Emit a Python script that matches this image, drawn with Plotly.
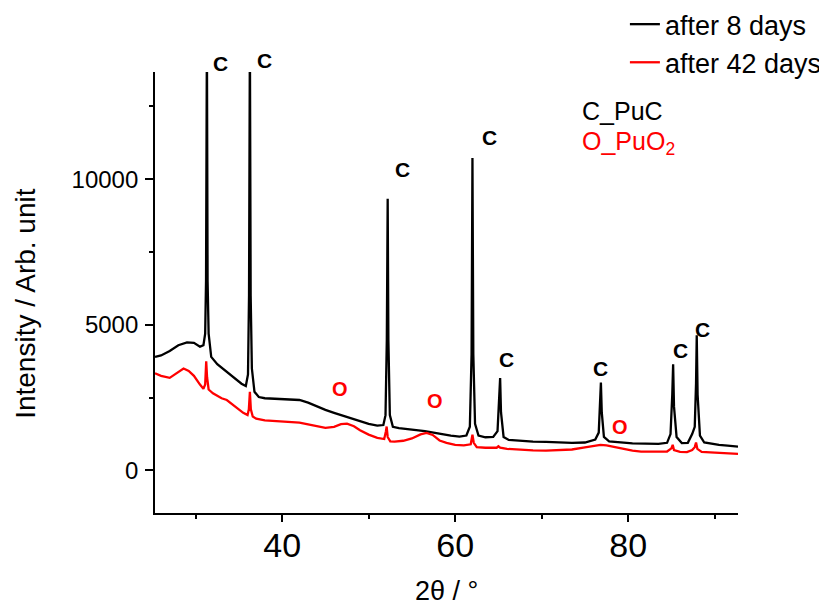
import plotly.graph_objects as go

# ---- data ----
two_theta_8d = [25.3, 26.0, 27.0, 28.0, 29.0, 29.8, 30.5, 30.9, 31.1, 31.2, 31.3, 31.38, 31.5, 31.8,
                32.5, 33.5, 34.5, 35.3, 35.8, 36.05, 36.17, 36.27, 36.36, 36.5, 36.8, 37.3, 38.0,
                39.0, 40.0, 41.0, 42.0, 43.0, 44.0, 45.0, 46.0, 47.0, 48.0, 49.0, 50.0, 51.0, 51.7,
                51.95, 52.1, 52.2, 52.28, 52.45, 52.8, 53.5, 54.5, 55.5, 56.5, 57.5, 58.5, 59.5,
                60.5, 61.3, 61.7, 61.9, 62.0, 62.1, 62.3, 62.7, 63.5, 64.4, 64.9, 65.1, 65.2, 65.3,
                65.6, 66.2, 67.5, 69.0, 70.5, 72.0, 73.5, 75.0, 76.2, 76.6, 76.75, 76.85, 76.95,
                77.2, 77.8, 79.0, 80.5, 82.0, 83.5, 84.5, 84.9, 85.1, 85.2, 85.3, 85.6, 86.2, 86.9,
                87.4, 87.7, 87.85, 87.93, 88.03, 88.3, 88.8, 89.5, 90.5, 91.5, 92.7]
intensity_8d = [3900, 3950, 4100, 4300, 4400, 4380, 4250, 4300, 4700, 6500, 15000, 6500, 4700, 3900,
                3650, 3400, 3150, 2980, 2900, 3300, 6000, 15000, 6000, 3500, 2700, 2520, 2480,
                2470, 2460, 2450, 2420, 2330, 2200, 2080, 1980, 1880, 1780, 1680, 1600, 1540, 1560,
                1900, 4500, 9330, 4500, 1900, 1500, 1450, 1420, 1390, 1350, 1300, 1240, 1200,
                1160, 1200, 1500, 4000, 10730, 4000, 1600, 1200, 1140, 1150, 1350, 2300, 3170, 2000,
                1150, 1050, 1010, 990, 980, 960, 950, 960, 1060, 1300, 2200, 3020, 2000,
                1150, 1000, 960, 930, 920, 910, 950, 1250, 2600, 3650, 2200, 1150, 940, 950,
                1250, 1500, 3000, 4640, 2600, 1200, 960, 920, 880, 850, 820]

two_theta_42d = [25.3, 26.0, 27.0, 27.8, 28.6, 29.2, 29.8, 30.5, 30.9, 31.1, 31.22, 31.32, 31.5, 32.0,
                 33.0, 33.6, 34.2, 34.8, 35.5, 36.0, 36.15, 36.27, 36.38, 36.6, 37.0, 38.0, 39.0,
                 40.0, 41.0, 42.0, 43.0, 44.0, 45.0, 46.0, 46.8, 47.5, 48.3, 49.0, 50.0, 51.0, 51.8,
                 52.0, 52.08, 52.2, 52.5, 53.0, 54.0, 55.0, 56.0, 56.7, 57.4, 58.2, 59.0, 60.0, 61.0,
                 61.8, 62.0, 62.15, 62.5, 63.5, 64.8, 65.0, 65.2, 66.0, 67.5, 69.0, 70.5, 72.0, 73.5,
                 75.0, 76.0, 76.8, 77.5, 78.5, 79.5, 80.5, 81.5, 83.0, 84.5, 85.0, 85.15, 85.3, 86.0,
                 86.8, 87.4, 87.7, 87.85, 88.0, 88.5, 89.5, 90.5, 91.5, 92.7]
intensity_42d = [3340, 3250, 3180, 3350, 3500, 3420, 3250, 2950, 2800, 2950, 3750, 3200, 2780, 2650,
                 2480, 2420, 2280, 2130, 1980, 1900, 2100, 2700, 2100, 1850, 1780, 1720, 1700,
                 1690, 1680, 1640, 1580, 1520, 1460, 1500, 1590, 1610, 1520, 1380, 1230, 1120, 1080,
                 1350, 1510, 1150, 1000, 990, 1020, 1100, 1240, 1290, 1220, 1030, 950, 880, 860,
                 900, 1230, 950, 800, 780, 780, 830, 780, 740, 710, 690, 680, 690, 720,
                 790, 850, 880, 860, 800, 740, 680, 650, 645, 650, 760, 880, 700, 640,
                 630, 700, 800, 960, 740, 640, 620, 600, 590, 570]

series_names = ["after 8 days", "after 42 days"]

# phase marker label anchors (2theta, intensity)
c_labels_x = [53.9, 63.98, 65.91, 76.8, 86.0, 88.61]
c_labels_y = [10326, 11431, 3826, 3492, 4110, 4856]
# the two tallest-peak labels sit above the plot frame (x in 2theta, y as fraction of plot height)
c_top_labels_x = [32.92, 38.0]
c_top_labels_yfrac = [1.019, 1.026]
o_labels_x = [46.74, 57.63, 79.11]
o_labels_y = [2795, 2369, 1477]

x_ticks = [40, 60, 80]
x_minor = [30, 50, 70, 90]
y_ticks = [0, 5000, 10000]
y_minor = [2500, 7500, 12500]

FONT = "Arial, 'Liberation Sans', sans-serif"

fig = go.Figure()
fig.add_trace(go.Scatter(x=two_theta_8d, y=intensity_8d, mode="lines", name=series_names[0],
                         line=dict(color="black", width=2.3), legendgroup="a"))
fig.add_trace(go.Scatter(x=two_theta_42d, y=intensity_42d, mode="lines", name=series_names[1],
                         line=dict(color="red", width=2.3), legendgroup="b"))

annotations = []
for x, y in zip(c_labels_x, c_labels_y):
    annotations.append(dict(x=x, y=y, xref="x", yref="y", text="<b>C</b>", showarrow=False,
                            yanchor="middle", font=dict(family=FONT, size=21, color="black")))
for x, y in zip(c_top_labels_x, c_top_labels_yfrac):
    annotations.append(dict(x=x, y=y, xref="x", yref="paper", text="<b>C</b>", showarrow=False,
                            yanchor="middle", font=dict(family=FONT, size=21, color="black")))
for x, y in zip(o_labels_x, o_labels_y):
    annotations.append(dict(x=x, y=y, xref="x", yref="y", text="<b>O</b>", showarrow=False,
                            yanchor="middle", font=dict(family=FONT, size=20, color="red")))
annotations.append(dict(x=74.46, y=12350, xref="x", yref="y", xanchor="left", yanchor="middle",
                        text="C_PuC", showarrow=False, font=dict(family=FONT, size=25, color="black")))
annotations.append(dict(x=74.46, y=11246, xref="x", yref="y", xanchor="left", yanchor="middle",
                        text="O_PuO<sub>2</sub>", showarrow=False, font=dict(family=FONT, size=25, color="red")))
# axis titles
annotations.append(dict(x=-0.221, y=0.4746, xref="paper", yref="paper", xanchor="center",
                        yanchor="middle", textangle=-90, text="Intensity / Arb. unit",
                        showarrow=False, font=dict(family=FONT, size=28, color="black")))
annotations.append(dict(x=0.5, y=-0.176, xref="paper", yref="paper", xanchor="center",
                        yanchor="middle", text="2θ / °",
                        showarrow=False, font=dict(family=FONT, size=27, color="black")))

fig.update_layout(
    width=819, height=600,
    margin=dict(l=147, r=89, t=64, b=95, autoexpand=False),
    paper_bgcolor="white", plot_bgcolor="white",
    font=dict(family=FONT, color="black"),
    showlegend=True,
    legend=dict(x=0.806, y=1.163, xanchor="left", yanchor="top", bgcolor="rgba(0,0,0,0)",
                font=dict(family=FONT, size=27, color="black"), tracegroupgap=0,
                traceorder="normal"),
    annotations=annotations,
    xaxis=dict(range=[25.3, 92.7], tickvals=x_ticks, ticks="outside", ticklen=7, tickwidth=1.5,
               tickcolor="black", showline=True, linecolor="black", linewidth=1.8,
               showgrid=False, zeroline=False, tickfont=dict(family=FONT, size=34),
               automargin=False, ticklabelstandoff=-6,
               minor=dict(tickvals=x_minor, ticks="outside", ticklen=4, tickwidth=1.5,
                          tickcolor="black", showgrid=False)),
    yaxis=dict(range=[-1460, 13680], tickvals=y_ticks, tickformat="d", ticks="outside", ticklen=8,
               tickwidth=1.5, tickcolor="black", showline=True, linecolor="black", linewidth=1.8,
               showgrid=False, zeroline=False, tickfont=dict(family=FONT, size=24),
               ticklabelstandoff=2, automargin=False,
               minor=dict(tickvals=y_minor, ticks="outside", ticklen=4, tickwidth=1.5,
                          tickcolor="black", showgrid=False)),
)

fig.write_html("out.html")
